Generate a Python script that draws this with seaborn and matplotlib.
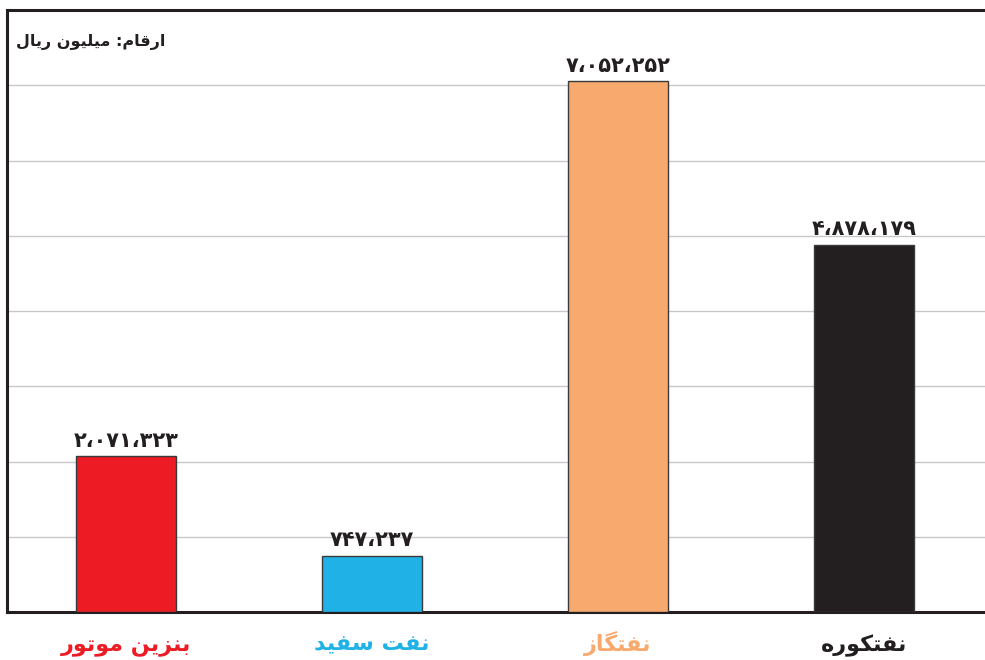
import matplotlib
matplotlib.use("Agg")
import matplotlib.pyplot as plt
import seaborn as sns
import pandas as pd

# ---- data ----
categories = ["بنزین موتور", "نفت سفید", "نفتگاز", "نفتکوره"]
values = [2071323, 747237, 7052252, 4878179]
colors = ["#ED1C24", "#20B2E6", "#F8A96E", "#231F20"]
unit_label = "ارقام: میلیون ریال"

# ---- minimal Arabic/Persian shaping (matplotlib has no shaping) ----
FORMS = {
    "ا": ("\uFE8D", "\uFE8E", None, None),
    "ب": ("\uFE8F", "\uFE90", "\uFE91", "\uFE92"),
    "ت": ("\uFE95", "\uFE96", "\uFE97", "\uFE98"),
    "د": ("\uFEA9", "\uFEAA", None, None),
    "ر": ("\uFEAD", "\uFEAE", None, None),
    "ز": ("\uFEAF", "\uFEB0", None, None),
    "س": ("\uFEB1", "\uFEB2", "\uFEB3", "\uFEB4"),
    "ف": ("\uFED1", "\uFED2", "\uFED3", "\uFED4"),
    "ق": ("\uFED5", "\uFED6", "\uFED7", "\uFED8"),
    "ک": ("\uFB8E", "\uFB8F", "\uFB90", "\uFB91"),
    "گ": ("\uFB92", "\uFB93", "\uFB94", "\uFB95"),
    "ل": ("\uFEDD", "\uFEDE", "\uFEDF", "\uFEE0"),
    "م": ("\uFEE1", "\uFEE2", "\uFEE3", "\uFEE4"),
    "ن": ("\uFEE5", "\uFEE6", "\uFEE7", "\uFEE8"),
    "ه": ("\uFEE9", "\uFEEA", "\uFEEB", "\uFEEC"),
    "و": ("\uFEED", "\uFEEE", None, None),
    "ی": ("\uFBFC", "\uFBFD", "\uFBFE", "\uFBFF"),
}


def shape(text):
    out = []
    n = len(text)
    for i, ch in enumerate(text):
        if ch not in FORMS:
            out.append(ch)
            continue
        prev = text[i - 1] if i > 0 else ""
        nxt = text[i + 1] if i < n - 1 else ""
        join_prev = prev in FORMS and FORMS[prev][2] is not None
        join_next = nxt in FORMS and FORMS[ch][2] is not None
        iso, fin, ini, med = FORMS[ch]
        if join_prev and join_next:
            out.append(med)
        elif join_prev:
            out.append(fin)
        elif join_next:
            out.append(ini)
        else:
            out.append(iso)
    return "".join(reversed(out))


PERSIAN_DIGITS = str.maketrans("0123456789,", "۰۱۲۳۴۵۶۷۸۹،")


def fa_number(v):
    return f"{v:,}".translate(PERSIAN_DIGITS)


sns.set_theme(style="white")
plt.rcParams["font.family"] = ["DejaVu Sans"]

df = pd.DataFrame({"cat": categories, "val": values})

fig = plt.figure(figsize=(9.85, 6.60), dpi=100)
ax = fig.add_axes([7 / 985, 48 / 660, 978 / 985, 602 / 660])

sns.barplot(data=df, x="cat", y="val", hue="cat", palette=colors,
            saturation=1, width=0.41, edgecolor="#3a3a3a", linewidth=1.0,
            legend=False, ax=ax, zorder=3)

ax.set_ylim(0, 8_000_000)
ax.set_xlim(-0.484, 3.492)
ax.set_yticks(range(1_000_000, 8_000_000, 1_000_000))
ax.yaxis.grid(True, color="#c8c8c8", linewidth=1.0, zorder=0)
ax.set_axisbelow(True)
ax.tick_params(axis="y", left=False, labelleft=False)
ax.tick_params(axis="x", bottom=False, pad=22)
ax.set_xlabel("")
ax.set_ylabel("")

for side in ["left", "bottom", "top"]:
    ax.spines[side].set_color("#231F20")
    ax.spines[side].set_linewidth(2.2)
ax.spines["right"].set_visible(False)

ax.set_xticks(range(len(categories)))
ax.set_xticklabels([shape(c) for c in categories], fontsize=16,
                   fontweight="bold")
for lbl, col in zip(ax.get_xticklabels(), colors):
    lbl.set_color(col)
    lbl.set_verticalalignment("baseline")

for cont in ax.containers:
    for b in cont:
        if b is None or b.get_height() != b.get_height():
            continue
        idx = int(round(b.get_x() + b.get_width() / 2))
        ax.annotate(fa_number(values[idx]),
                    (b.get_x() + b.get_width() / 2, b.get_height()),
                    xytext=(0, 4), textcoords="offset points",
                    ha="center", va="bottom", fontsize=15,
                    fontweight="bold", color="#231F20")

ax.text(0.168, 0.936, shape(unit_label), transform=fig.transFigure,
        ha="right", va="center", fontsize=11.5, fontweight="bold",
        color="#231F20")

fig.savefig("out.png", dpi=100)
